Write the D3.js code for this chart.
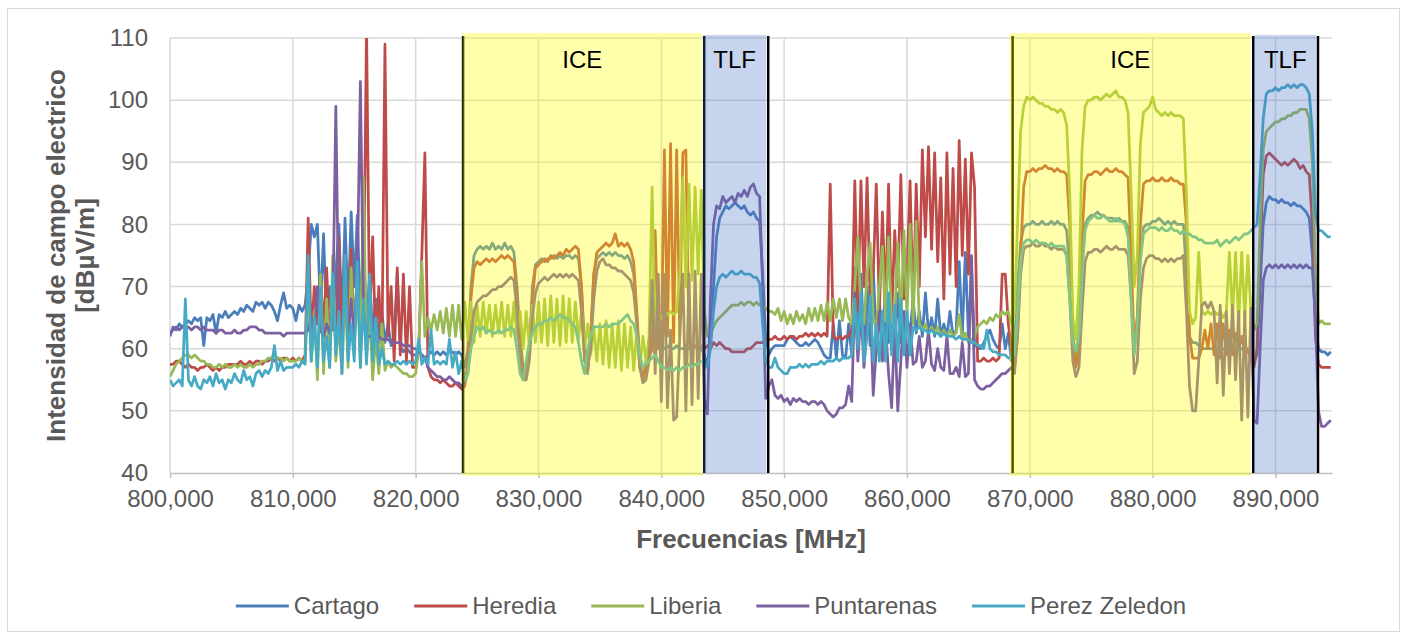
<!DOCTYPE html>
<html>
<head>
<meta charset="utf-8">
<script src="https://cdn.jsdelivr.net/npm/d3@7"></script>
<style>
  body { margin: 0; background: #ffffff; }
  text { font-family: "Liberation Sans", Arial, sans-serif; }
</style>
</head>
<body>
<div id="divChart"></div>
<script>
// frecuencias en kHz, una muestra cada 250 kHz
var freqStart = 800000;
var freqEnd = 894500;
var freqStep = 250;

var seriesNames = ["Cartago", "Heredia", "Liberia", "Puntarenas", "Perez Zeledon"];
var seriesColors = ["#4a7ebb", "#be4b48", "#98b954", "#7d60a0", "#46aac5"];

var cartago = [
    62, 63.5, 63, 64, 63.5, 64, 64.5, 64, 65, 64.5, 65, 60.5, 65, 64.5, 65.5, 62.5, 65.5, 65, 66, 65,
    65.5, 66, 65.5, 66.5, 66, 67, 66.5, 66, 67.5, 67, 67.5, 66.5, 67.5, 67, 66, 64.5, 67, 69, 66.5, 67,
    66.5, 64.5, 67, 66, 67, 72, 80, 78, 80, 66, 78.5, 64, 70, 63, 72, 80, 64, 81, 66, 82,
    70, 81.5, 65, 78, 63, 72, 62, 68, 61, 66, 61, 64, 60.5, 62, 72, 60.5, 59.5, 60, 59.5, 59,
    59, 59.5, 59, 58.5, 59, 59.5, 59, 59.5, 59, 59.5, 59, 59.5, 59.5, 59, 59.5, 59, 57, 60, 70, 75,
    76, 76.5, 76, 76.5, 76, 77, 76, 76.5, 76, 77, 76, 76.5, 75.5, 70, 62, 57, 56, 60, 70, 73.5,
    74, 74.5, 74, 74.5, 74.5, 75, 74.5, 75, 74.5, 75, 75, 74.5, 75, 74.5, 70, 60, 56, 62, 72, 74.5,
    75, 75.5, 75, 75.5, 75, 75.5, 75, 75, 74.5, 75, 74, 72, 65, 57, 55, 58, 60, 60, 60, 60.5,
    60, 60, 60.5, 60, 60, 60.5, 60, 60, 60.5, 60, 60, 60.5, 60, 60, 59, 57, 62, 70, 78, 81,
    82, 83, 82.5, 83, 83.5, 83, 82.5, 83, 82, 81.5, 82, 81, 80.5, 72, 62, 59, 60, 60.5, 60.5, 60.5,
    60.5, 61.5, 62, 61.5, 61, 60.5, 60.5, 61, 60.5, 61, 61.5, 61, 60, 59, 58.5, 58.5, 64, 58.5, 64.5, 59,
    58.5, 64, 59, 73, 60, 72, 61, 70, 60.5, 73, 61, 68, 60, 71, 61, 66, 60, 69, 61, 65,
    64, 62.5, 68, 62.5, 66, 62, 69, 62.5, 65, 62, 68, 62, 64, 62, 66, 62, 63, 74, 62, 75.5,
    62, 73, 61, 60, 60, 61, 62, 63, 61.5, 60.5, 60, 64, 60, 62.5, 58, 61, 70, 77, 79.5, 80,
    80, 80.5, 80, 80, 80.5, 80, 80, 80.5, 80, 80.5, 80, 80, 79, 72, 62, 59, 62, 74, 80, 81,
    81.5, 81.5, 82, 81.5, 81.5, 81, 81, 81, 80.5, 81, 80.5, 80.5, 79.5, 70, 60, 65, 75, 79.5, 80, 80,
    80.5, 80.5, 81, 80.5, 80, 80.5, 80, 80.5, 80, 80, 80, 72, 62, 61, 61, 60.5, 60, 60, 60, 60,
    60, 60, 59.5, 60, 60, 60, 59.5, 60, 60, 60, 59.5, 59.5, 59, 58, 59, 70, 80, 83.5, 84.5, 84,
    84, 83.5, 84, 83.5, 83.5, 83, 83.5, 83, 83, 82.5, 82, 81, 75, 64, 60, 59.5, 59.5, 59, 59.5
];

var heredia = [
    57.5, 57.5, 58, 58, 57.5, 57, 57.5, 57, 57, 56.5, 57, 57, 57.5, 57, 56.5, 57, 56.5, 57, 57, 57.5,
    57.5, 57.5, 57.5, 58, 57.5, 57.5, 58, 57.5, 58, 58, 57.5, 58, 58, 58.5, 58, 58.5, 58, 58.5, 58.5, 58,
    58.5, 58, 58.5, 58, 59, 81, 62, 70, 64, 72, 63, 73, 61, 68, 62, 78, 60, 74, 61, 76,
    62, 72, 60, 66, 112, 64, 78, 60, 70, 59, 109, 62, 70, 58, 73, 59, 72, 58, 70, 57,
    57, 60, 75, 91.5, 57, 55.5, 55, 55, 54.5, 55, 54.5, 54, 54, 54.5, 54, 53.5, 54, 58, 68, 73,
    74, 73.5, 74, 74.5, 74, 74.5, 74, 74.5, 75, 74.5, 75, 74.5, 74, 68, 60, 56, 55.5, 60, 68, 73,
    73.5, 74, 74.5, 74, 75, 74.5, 75, 75.5, 75, 76, 75.5, 76, 76.5, 76, 70, 60, 56.5, 62, 72, 75.5,
    76, 76.5, 77, 76.5, 77, 78.5, 76.5, 77, 76.5, 77, 76, 74, 66, 58, 55, 57, 58.5, 60, 79, 60,
    60, 92, 62, 93, 61, 92, 62, 91.5, 92, 61, 60, 60.5, 60, 60.5, 60, 60.5, 60, 61, 60.5, 61,
    60.5, 60, 60, 59.5, 59.5, 59.5, 59.5, 59.5, 60, 60, 60.5, 61, 61, 61, 61.5, 61.5, 61.5, 62, 61.5, 61.5,
    62, 61.5, 62, 62, 61.5, 62, 62, 62.5, 62, 62.5, 62, 62.5, 62, 62.5, 62, 86.5, 62, 61.5, 62, 61.5,
    62, 62, 63, 87, 66, 87, 70, 87.5, 68, 72, 86.5, 66, 82, 67, 86.5, 65, 79, 70, 88, 68,
    72, 87, 66, 86.5, 70, 92, 78, 92.5, 76, 91.5, 74, 87.5, 68, 91.5, 72, 89, 70, 93.5, 75, 90.5,
    72, 91.5, 86, 58, 58, 58.5, 58, 58, 58.5, 58, 58.5, 72, 72, 64, 60, 57, 62, 75, 86, 88.5,
    88.5, 89, 88.5, 89, 89, 89.5, 89, 89, 88.5, 89, 88.5, 88.5, 88, 80, 62, 57, 60, 78, 87, 88,
    88, 88.5, 88.5, 88, 88.5, 89, 88.5, 88.5, 89, 88.5, 88.5, 88, 87.5, 75, 60, 65, 80, 86.5, 87, 87,
    87.5, 87, 87, 87.5, 87, 87, 87.5, 87, 87, 86.5, 86.5, 80, 62, 58.5, 58.5, 58.5, 60, 63, 60, 64,
    59, 64, 58.5, 64, 59, 63, 59, 62.5, 60, 62, 59, 60, 58, 57, 60, 75, 88, 91, 91.5, 91,
    90.5, 90, 89.5, 90, 89.5, 90, 90.5, 90, 89, 89.5, 88.5, 88, 80, 62, 57.5, 57, 57, 57, 57
];

var liberia = [
    55.5, 56.5, 57.5, 58, 58.5, 59, 59, 58.5, 59, 58.5, 58, 58, 57.5, 57.5, 57, 57, 57.5, 57, 57.5, 57,
    57, 57.5, 57, 57.5, 57, 57, 57.5, 57, 57.5, 57.5, 58, 58, 58.5, 58.5, 59, 58.5, 58.5, 58, 58.5, 58,
    58, 58, 58.5, 58, 58, 70, 58, 66, 55, 72, 56, 68, 57, 75, 58, 64, 56, 70, 57, 73,
    60, 72, 57, 87.5, 58, 66, 55, 62, 56, 64, 56.5, 58, 57, 57.5, 57, 56.5, 56, 56, 55.5, 55.5,
    56, 60, 74, 62, 65, 63, 65.5, 63, 66, 62.5, 66.5, 62, 67, 62, 67, 61.5, 67.5, 61.5, 67.5, 61,
    67, 62, 67.5, 62.5, 67, 62, 67, 62.5, 67.5, 62, 67, 62, 67.5, 61.5, 66, 60, 66, 60.5, 67, 61,
    67.5, 61, 68, 60.5, 68.5, 61, 68, 60.5, 68.5, 61, 68, 61, 67.5, 61.5, 66, 60, 64, 59, 63.5, 58,
    64, 57.5, 64.5, 57, 64, 57, 64.5, 56.5, 64, 57, 63.5, 56.5, 63, 57, 62, 58, 62, 86, 62, 64,
    65, 66, 65.5, 66, 65.5, 66, 72, 87.5, 70, 86.5, 71, 86, 72, 85.5, 66, 62, 62.5, 63.5, 64.5, 65,
    65.5, 66, 66.5, 67, 67, 67, 67.5, 67, 67.5, 67.5, 67, 67.5, 67, 67, 66.5, 66, 66, 65.5, 66.5, 64.5,
    66, 64, 65.5, 64, 66, 64.5, 65.5, 64, 66.5, 64.5, 66.5, 64.5, 67, 64.5, 67.5, 64.5, 68, 65, 68, 64.5,
    68, 65, 64, 70, 78, 66, 64, 72, 77, 65, 63, 70, 76.5, 64, 78, 64, 65, 77, 64, 79,
    65, 80, 64, 80.5, 64, 63, 64, 62.5, 63.5, 62.5, 63.5, 62, 63, 62, 63, 62, 62.5, 65.5, 61.5, 62.5,
    61, 61.5, 62, 63.5, 64, 64.5, 64, 65, 64.5, 65.5, 65, 66, 65.5, 66, 64, 66, 80, 95, 99, 100.5,
    100, 100.5, 100, 99.5, 99.5, 99, 99, 98.5, 98.5, 98, 98.5, 98, 96, 85, 65, 61.5, 70, 92, 99, 100,
    100, 100.5, 100.5, 100, 100.5, 101, 100.5, 101, 101.5, 100.5, 100.5, 100, 98, 85, 70, 75, 93, 98, 98.5, 99,
    100.5, 98.5, 98, 97.5, 98, 97.5, 98, 97.5, 97.5, 97.5, 97, 85, 66, 64, 65, 75.5, 66, 65.5, 66, 65.5,
    66, 65.5, 66, 65, 66, 75.5, 65, 75.5, 64, 75.5, 65, 75, 66, 63, 64, 80, 92, 95, 95.5, 96,
    96.5, 96.5, 97, 97, 97.5, 97.5, 98, 98, 98.5, 98.5, 98.5, 97, 90, 72, 64, 64.5, 64, 64, 64
];

var puntarenas = [
    62.5, 63, 63.5, 63, 63.5, 63.5, 63.5, 63, 63.5, 63.5, 63, 63.5, 63, 63, 63, 62.5, 63, 63, 62.5, 62.5,
    62.5, 63, 62.5, 62.5, 63, 63, 63.5, 63.5, 63.5, 63, 63, 62.5, 62.5, 62.5, 62.5, 62.5, 62.5, 62, 62.5, 62.5,
    62.5, 62.5, 62.5, 62.5, 62.5, 63, 65, 62, 70, 63, 62, 64, 62.5, 65, 99, 64, 62, 73, 62, 68,
    62, 72, 103, 66, 62, 62, 62, 61.5, 62, 61.5, 61.5, 61.5, 61, 61, 61, 61, 60.5, 60.5, 60.5, 60,
    60, 59.5, 59, 58.5, 57, 56.5, 56, 55.5, 55.5, 55, 55, 55.5, 55, 54.5, 54.5, 54, 54.5, 56, 62, 66,
    67.5, 68, 68.5, 68.5, 69, 69.5, 69.5, 70, 70, 70.5, 71, 71.5, 71, 66, 58, 55, 55, 58, 65, 69,
    70.5, 71, 71.5, 71, 71.5, 72, 71.5, 72, 71.5, 72, 71.5, 72, 71.5, 71, 66, 58, 57, 60, 68, 72.5,
    74, 74.5, 73.5, 73.5, 73, 73, 72.5, 72.5, 72, 71.5, 71, 69, 64, 57, 54.5, 55, 58, 71, 56, 72,
    51.5, 72, 50.5, 63, 48.5, 49, 62, 72, 50, 72, 51, 72.5, 52, 72, 52, 49.5, 68, 80, 83, 82.5,
    84.5, 83.5, 84, 84.5, 83.5, 85, 84.5, 85.5, 84.5, 86, 86.5, 85, 84.5, 70, 52, 54, 55, 52.5, 52, 52.5,
    51.5, 52, 51, 52, 51.5, 52, 51.5, 51.5, 51, 51.5, 51.5, 51, 51.5, 51, 50, 49.5, 49, 49.5, 50.5, 50.5,
    51, 54, 51.5, 69, 58, 66, 57, 64, 68, 52.5, 60, 66, 58, 64, 56, 50.5, 64, 50, 58, 66,
    57, 64, 57.5, 58, 62, 57, 58, 63, 57.5, 56.5, 60, 57, 56.5, 62, 56, 56, 57, 55.5, 61, 55.5,
    56, 75, 55, 54, 53.5, 53.5, 54, 54, 54.5, 55, 55.5, 56, 56, 56.5, 57, 56, 62, 72, 76, 76.5,
    76.5, 77, 76.5, 76.5, 77, 76.5, 76.5, 76, 76.5, 76, 76, 76, 75, 68, 58, 55.5, 57, 66, 74, 75.5,
    75.5, 76, 76, 75.5, 76, 76.5, 76, 76, 76.5, 76, 76, 76, 75, 68, 56, 58, 68, 73, 74.5, 75,
    75, 74.5, 74.5, 74, 74.5, 74, 74.5, 74, 74.5, 74.5, 75, 66, 54, 50, 50, 58, 67, 67.5, 66.5, 67.5,
    66, 54.5, 67, 52.5, 66, 56, 67, 55, 66, 48.5, 66, 49, 66.5, 48.5, 48, 60, 71, 73, 73.5, 73,
    73.5, 73, 73.5, 73, 73.5, 73, 73.5, 73, 73.5, 73, 73.5, 73, 73, 65, 50, 47.5, 47.5, 48, 48.5
];

var perezZeledon = [
    55, 54, 54.5, 55, 54, 68, 55, 54, 55.5, 54, 53.5, 55, 54.5, 55.5, 54, 56, 54.5, 55, 53.5, 55,
    54.5, 56, 55, 54.5, 56.5, 55, 55.5, 54, 56, 56.5, 55.5, 56.5, 56, 57, 60.5, 56.5, 58, 56.5, 57, 57,
    57, 57.5, 57, 58, 57.5, 75, 58, 65, 57, 70, 58, 62, 57, 72, 59, 66, 56, 75, 58, 64,
    58, 74, 57, 68, 57.5, 72, 58, 65, 57.5, 60, 57.5, 58, 57.5, 57.5, 58, 57.5, 58, 57.5, 58, 57.5,
    58, 61.5, 57.5, 58.5, 57.5, 63, 57.5, 58, 57.5, 58, 57.5, 61.5, 57, 59.5, 56, 58, 55, 56, 60, 62,
    63.5, 63, 63.5, 62.5, 63, 62.5, 62.5, 63, 62.5, 63, 63, 63.5, 63, 60, 56, 55, 58, 61, 62.5, 63.5,
    64, 64, 64.5, 64.5, 65, 64.5, 65, 65.5, 65, 65, 64.5, 64, 63.5, 61, 58, 56, 60, 62, 63.5, 63.5,
    63.5, 63.5, 64, 63.5, 64, 64, 64, 64.5, 65, 65.5, 64.5, 64, 62, 59, 57, 57.5, 58, 58.5, 59, 58,
    57, 57, 56.5, 57, 56.5, 57, 56.5, 57, 57, 57.5, 57, 57.5, 57.5, 58, 58, 57, 60, 66, 70, 71.5,
    72, 71.5, 72, 72.5, 72, 72, 72.5, 72, 72, 72, 71.5, 71.5, 70.5, 64, 58, 57, 57, 58.5, 57, 56.5,
    56, 56, 57, 57, 57, 57.5, 57, 57.5, 57, 57.5, 57.5, 57.5, 58, 57.5, 58, 58, 58, 58.5, 58, 58.5,
    58.5, 58.5, 59, 68, 60, 69, 58, 62, 68.5, 58, 64, 58, 66, 58, 69, 59, 67, 58, 68, 59,
    66, 59, 63.5, 63, 63.5, 63, 63, 62.5, 63, 62.5, 62.5, 62, 62.5, 62, 62, 62, 61.5, 62, 61.5, 61.5,
    61.5, 61, 61, 60.5, 60.5, 60, 63, 60, 59.5, 59.5, 59, 59, 59, 58.5, 58.5, 59, 66, 74, 77, 77.5,
    77.5, 77, 77.5, 77, 77, 77, 76.5, 77, 76.5, 76.5, 76.5, 76.5, 75, 68, 61, 59.5, 62, 72, 79, 80.5,
    81, 81.5, 81, 81, 81.5, 81, 80.5, 80.5, 81, 80.5, 80.5, 80, 78, 68, 59, 64, 74, 78.5, 79, 79.5,
    79.5, 79.5, 79, 79.5, 79, 79, 79.5, 79, 79, 78.5, 79, 78.5, 78.5, 78, 78, 77.5, 77.5, 77, 77, 77,
    77, 77.5, 76.5, 77, 77.5, 77, 77.5, 78, 77.5, 78, 78.5, 78.5, 79, 79.5, 80, 88, 97, 101, 101.5, 101.5,
    102, 101.5, 102, 102, 102.5, 102, 102.5, 102, 102.5, 102.5, 102, 101, 95, 82, 79, 79, 78.5, 78, 78
];

// bandas de operadores (kHz)
var bandLabels = ["ICE", "TLF", "ICE", "TLF"];
var bandFrom = [823820, 843400, 868360, 888270];
var bandTo = [843320, 848530, 887990, 893320];
var bandKind = ["ice", "tlf", "ice", "tlf"];
var bandEdges = [823860, 843490, 848700, 868600, 888190, 893460];

var xTicks = d3.range(800000, 890001, 10000);
var yTicks = [40, 50, 60, 70, 80, 90, 100, 110];

function init()
{
    var chartPlace = document.getElementById("divChart");

    var width = 1408;
    var height = 639;
    var left = 170, right = 1332, top = 38, bottom = 473;
    var textColor = "#595959";

    var svg = d3.select(chartPlace).append("svg")
        .attr("width", width)
        .attr("height", height);

    // marco del grafico
    svg.append("rect")
        .attr("x", 7.5).attr("y", 8.5)
        .attr("width", 1392).attr("height", 623)
        .style("fill", "#ffffff")
        .style("stroke", "#d9d9d9")
        .style("stroke-width", 1);

    var scaleX = d3.scaleLinear()
        .domain([800000, 894600])
        .range([left, right]);

    var scaleY = d3.scaleLinear()
        .domain([40, 110])
        .range([bottom, top]);

    // cuadricula horizontal
    svg.append("g").selectAll("line")
        .data(yTicks.slice(1))
        .enter().append("line")
        .attr("x1", left).attr("x2", right)
        .attr("y1", function(d){ return scaleY(d); })
        .attr("y2", function(d){ return scaleY(d); })
        .style("stroke", "#d9d9d9")
        .style("stroke-width", 1.5);

    // cuadricula vertical
    svg.append("g").selectAll("line")
        .data(xTicks)
        .enter().append("line")
        .attr("x1", function(d){ return scaleX(d); })
        .attr("x2", function(d){ return scaleX(d); })
        .attr("y1", top).attr("y2", bottom)
        .style("stroke", "#d9d9d9")
        .style("stroke-width", 1.5);

    // eje X
    var xAxis = d3.axisBottom(scaleX)
        .tickValues(xTicks)
        .tickFormat(d3.format(","))
        .tickSize(5)
        .tickPadding(12)
        .tickSizeOuter(0);

    var gx = svg.append("g")
        .attr("class", "x-axis")
        .attr("transform", "translate(0," + bottom + ")")
        .call(xAxis);
    gx.select(".domain").style("stroke", "#bfbfbf").style("stroke-width", 1.5);
    gx.selectAll(".tick line").style("stroke", "#bfbfbf").style("stroke-width", 1.5);
    gx.selectAll("text").style("font-size", "24px").style("fill", textColor);

    // eje Y
    var yAxis = d3.axisLeft(scaleY)
        .tickValues(yTicks)
        .tickSize(0)
        .tickPadding(22);

    var gy = svg.append("g")
        .attr("class", "y-axis")
        .attr("transform", "translate(" + left + ",0)")
        .call(yAxis);
    gy.select(".domain").remove();
    gy.selectAll("text").style("font-size", "24px").style("fill", textColor);

    // series
    var allSeries = [cartago, heredia, liberia, puntarenas, perezZeledon];
    var freqs = d3.range(freqStart, freqEnd + 1, freqStep);

    svg.append("clipPath").attr("id", "plotClip")
        .append("rect")
        .attr("x", left).attr("y", top)
        .attr("width", right - left).attr("height", bottom - top);

    var line = d3.line()
        .x(function(d){ return scaleX(d.x); })
        .y(function(d){ return scaleY(d.y); });

    var gLines = svg.append("g").attr("clip-path", "url(#plotClip)");
    for (var s = 0; s < allSeries.length; s++)
    {
        var pts = [];
        var n = Math.min(freqs.length, allSeries[s].length);
        for (var i = 0; i < n; i++)
        {
            pts.push({x: freqs[i], y: allSeries[s][i]});
        }
        gLines.append("path")
            .attr("d", line(pts))
            .style("fill", "none")
            .style("stroke", seriesColors[s])
            .style("stroke-width", 2.75)
            .style("stroke-linejoin", "round");
    }

    // bordes negros de las bandas
    svg.append("g").selectAll("line")
        .data(bandEdges)
        .enter().append("line")
        .attr("x1", function(d){ return scaleX(d); })
        .attr("x2", function(d){ return scaleX(d); })
        .attr("y1", 36).attr("y2", bottom)
        .style("stroke", "#000000")
        .style("stroke-width", 2.5);

    // bandas sombreadas encima de las curvas
    var gBands = svg.append("g");
    for (var b = 0; b < bandLabels.length; b++)
    {
        var isIce = bandKind[b] == "ice";
        gBands.append("rect")
            .attr("x", scaleX(bandFrom[b]))
            .attr("y", isIce ? 33 : 35)
            .attr("width", scaleX(bandTo[b]) - scaleX(bandFrom[b]))
            .attr("height", isIce ? 443 : 438)
            .style("fill", isIce ? "#ffff00" : "#4472c4")
            .style("opacity", isIce ? 0.33 : 0.3);

        gBands.append("text")
            .attr("x", (scaleX(bandFrom[b]) + scaleX(bandTo[b])) / 2)
            .attr("y", 68)
            .attr("text-anchor", "middle")
            .style("font-size", "24px")
            .style("fill", "#000000")
            .text(bandLabels[b]);
    }

    // titulos de ejes
    svg.append("text")
        .attr("x", (left + right) / 2)
        .attr("y", 548)
        .attr("text-anchor", "middle")
        .style("font-size", "26px")
        .style("font-weight", "bold")
        .style("fill", textColor)
        .text("Frecuencias [MHz]");

    svg.append("text")
        .attr("transform", "translate(65," + (top + bottom) / 2 + ") rotate(-90)")
        .attr("text-anchor", "middle")
        .style("font-size", "26px")
        .style("font-weight", "bold")
        .style("fill", textColor)
        .text("Intensidad de campo electrico");

    svg.append("text")
        .attr("transform", "translate(94," + (top + bottom) / 2 + ") rotate(-90)")
        .attr("text-anchor", "middle")
        .style("font-size", "26px")
        .style("font-weight", "bold")
        .style("fill", textColor)
        .text("[dBµV/m]");

    // leyenda
    var legend = svg.append("g");
    var lineLen = 53, textGap = 5, itemGap = 35, legendY = 606;
    var items = [];
    var total = 0;
    for (var k = 0; k < seriesNames.length; k++)
    {
        var t = legend.append("text")
            .attr("y", legendY + 8)
            .style("font-size", "24px")
            .style("fill", textColor)
            .text(seriesNames[k]);
        var w = t.node().getComputedTextLength();
        items.push({t: t, w: w});
        total += lineLen + textGap + w + (k > 0 ? itemGap : 0);
    }
    var cx = 711 - total / 2;
    for (var k = 0; k < items.length; k++)
    {
        legend.append("line")
            .attr("x1", cx).attr("x2", cx + lineLen)
            .attr("y1", legendY).attr("y2", legendY)
            .style("stroke", seriesColors[k])
            .style("stroke-width", 3);
        items[k].t.attr("x", cx + lineLen + textGap);
        cx += lineLen + textGap + items[k].w + itemGap;
    }
}

window.onload = init;
</script>
</body>
</html>
